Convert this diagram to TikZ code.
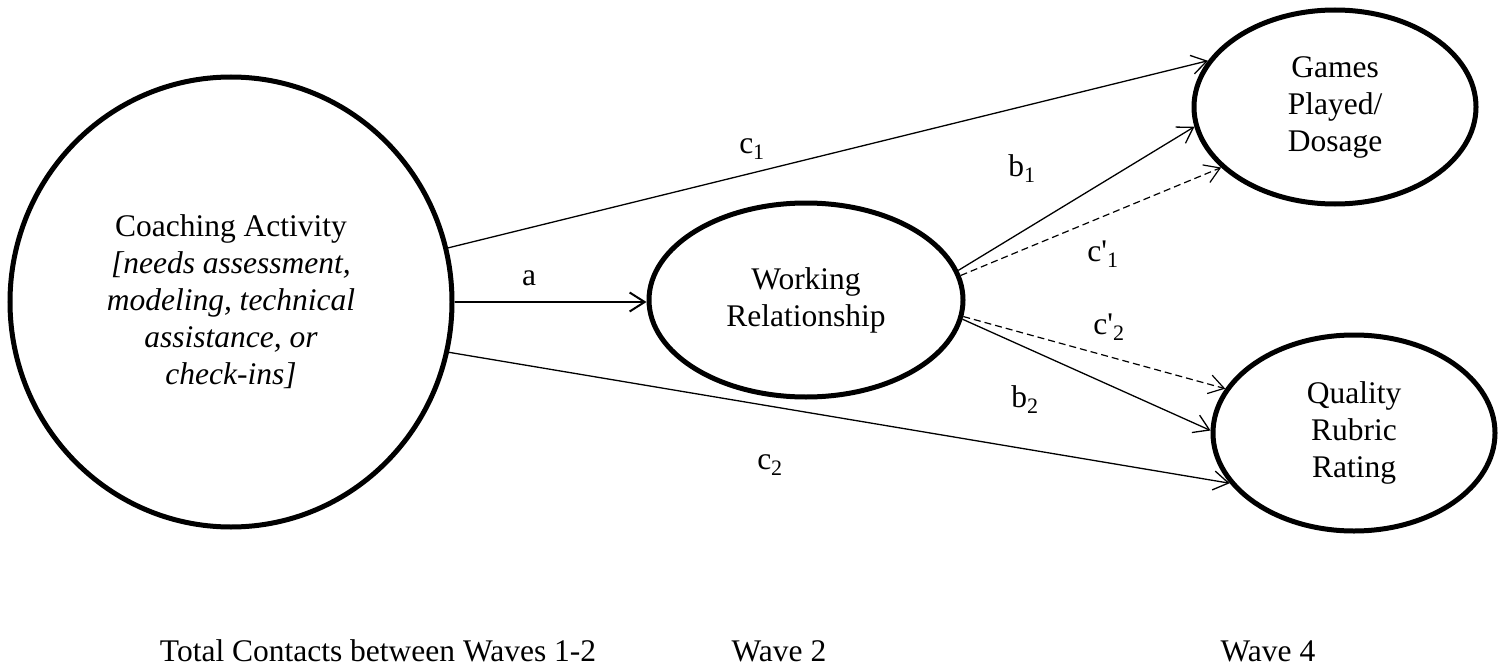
\documentclass[tikz,border=0pt]{standalone}
\usepackage{fontspec}
\setmainfont{Liberation Serif}[Ligatures=TeXOff]
\usetikzlibrary{arrows.meta}
\usetikzlibrary{shapes.geometric}

\begin{document}
\begin{tikzpicture}[x=1pt,y=-1pt,->,>={Straight Barb[length=15pt,width=19pt]},
    font=\fontsize{31.5}{37}\selectfont,
    main node/.style={ellipse,draw,line width=5pt,inner sep=0pt,align=center},
    label node/.style={inner sep=0pt},
    path line/.style={line width=1.3pt},
    path dash/.style={line width=1.2pt,dash pattern=on 7pt off 4pt}]
   \useasboundingbox (0,0) rectangle (1504,666);
   % constructs
   \node[main node,minimum width=442pt,minimum height=450pt] (coach) at (231,302)
     {Coaching Activity\\ \textit{[needs assessment,}\\ \textit{modeling, technical}\\
      \textit{assistance, or}\\ \textit{check-ins]}};
   \node[main node,minimum width=314pt,minimum height=194pt] (work) at (806,300) {Working\\Relationship};
   \node[main node,minimum width=282pt,minimum height=194pt] (games) at (1335,107) {Games\\Played/\\Dosage};
   \node[main node,minimum width=282pt,minimum height=196pt] (quality) at (1354,433) {Quality\\Rubric\\Rating};
   % paths
   \path[line width=2pt] (coach.east) edge (coach.east -| work.west);
   \path[path line] (coach.14) edge (games.160);
   \path[path line] (coach.-13) edge (quality.202);
   \path[path line] (work.11) edge (games.188);
   \path[path dash] (work.9) edge (games.208);
   \path[path dash] (work.-6) edge (quality.161);
   \path[path line] (work.-7) edge (quality.179);
   % path labels
   \node[label node] (la) at (529,278) {a};
   \node[label node] (lc1) at (752,149) {c\textsubscript{1}};
   \node[label node] (lc2) at (770,465) {c\textsubscript{2}};
   \node[label node] (lb1) at (1022,169) {b\textsubscript{1}};
   \node[label node] (lcp1) at (1103,254) {c'\textsubscript{1}};
   \node[label node] (lcp2) at (1109,327) {c'\textsubscript{2}};
   \node[label node] (lb2) at (1025,400) {b\textsubscript{2}};
   % waves
   \node (wave12) at (378,651) {Total Contacts between Waves 1-2};
   \node (wave2) at (779,651) {Wave 2};
   \node (wave4) at (1268,651) {Wave 4};
\end{tikzpicture}
\end{document}
